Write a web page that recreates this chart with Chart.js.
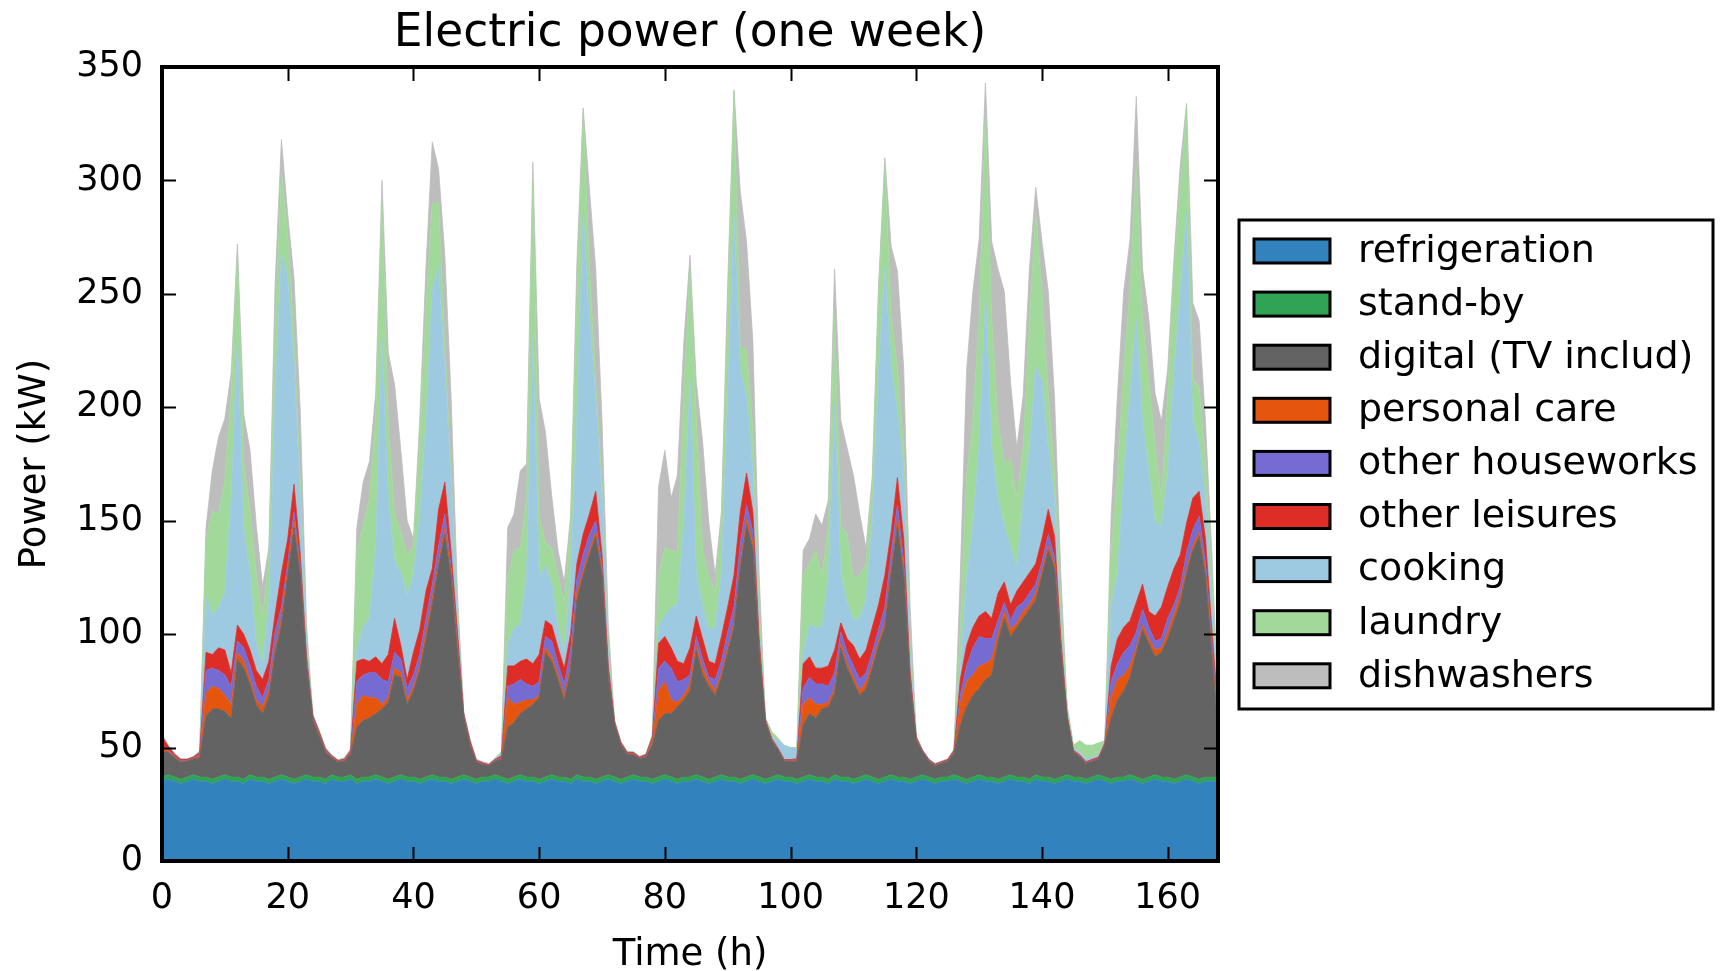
<!DOCTYPE html>
<html>
<head>
<meta charset="utf-8">
<title>Electric power (one week)</title>
<script src="https://cdn.jsdelivr.net/npm/chart.js@4.4.1/dist/chart.umd.min.js"></script>
<style>
  html, body { margin: 0; padding: 0; background: #ffffff; }
  #wrap { width: 1721px; height: 971px; }
</style>
</head>
<body>
<div id="wrap"><canvas id="chart" width="1721" height="971"></canvas></div>
<script>
// ===== DATA (kW, one value per hour, hour 0 .. 168) =====
const hours = Array.from({ length: 169 }, (_, i) => i);

const seriesNames = ["refrigeration", "stand-by", "digital (TV includ)", "personal care",
    "other houseworks", "other leisures", "cooking", "laundry", "dishwashers"];

const seriesColors = ["#3182bd", "#31a354", "#636363", "#e6550d",
    "#756bd1", "#de2d26", "#9ecae1", "#a1d99b", "#bdbdbd"];

const yTicks = [0, 50, 100, 150, 200, 250, 300, 350];
const xTicks = [0, 20, 40, 60, 80, 100, 120, 140, 160];

const refrigeration = [
    35,36,35,34,35,36,35,35,34,35,36,35,35,34,36,35,35,34,35,36,35,34,35,36,
    35,35,34,36,35,35,36,34,35,35,36,35,34,35,36,35,35,34,35,36,35,35,34,35,
    36,35,34,35,35,36,35,34,35,36,35,35,34,35,36,35,35,34,36,35,35,34,35,36,
    35,34,35,36,35,35,34,35,36,35,34,35,35,36,35,34,35,36,35,35,34,35,36,35,
    34,35,36,35,35,34,35,36,35,35,34,36,35,35,34,35,36,35,34,35,36,35,35,34,
    35,36,35,34,35,35,36,35,34,35,36,35,35,34,35,36,35,35,34,36,35,35,34,35,
    36,35,35,34,35,36,35,34,35,35,36,35,34,35,36,35,35,34,35,36,35,34,35,35,
    35
];

const standby = [
    2,2,2,2,2,2,2,2,2,2,2,2,2,2,2,2,2,2,2,2,2,2,2,2,
    2,2,2,2,2,2,2,2,2,2,2,2,2,2,2,2,2,2,2,2,2,2,2,2,
    2,2,2,2,2,2,2,2,2,2,2,2,2,2,2,2,2,2,2,2,2,2,2,2,
    2,2,2,2,2,2,2,2,2,2,2,2,2,2,2,2,2,2,2,2,2,2,2,2,
    2,2,2,2,2,2,2,2,2,2,2,2,2,2,2,2,2,2,2,2,2,2,2,2,
    2,2,2,2,2,2,2,2,2,2,2,2,2,2,2,2,2,2,2,2,2,2,2,2,
    2,2,2,2,2,2,2,2,2,2,2,2,2,2,2,2,2,2,2,2,2,2,2,2,
    2
];

const digital = [
    11,10,8.5,7.5,7,7,8.5,27,31,30,28,26,52,49,40,32,28,36,55,66,89,111,89,48,
    25,18,12,7.5,6.5,7,9,23,25,26,27,30,34,45,43,32,38,48,61,75,93,107,89,55,
    25,14,7.5,5.5,5,6,8,23,24,27,30,32,36,55,50,43,34,48,77,89,98,107,89,43,
    23,15,10,9,8,9,15,25,27,28,32,34,38,55,45,41,36,43,55,66,93,111,100,55,
    25,16,11,7,7,8,23,27,26,30,32,36,57,48,43,36,38,48,59,66,89,111,89,43,
    16,10,7,6,6,7,9.5,23,32,36,38,43,45,61,70,61,66,70,75,77,89,100,93,55,
    25,11,9,7,7,7,14,27,34,38,43,55,66,59,52,55,61,70,77,89,100,107,89,55,
    20
];

const personalCare = [
    2,0.5,0.3,0.3,0.2,0.2,1,10,10,9,7,6,3,3,2,2,3,3,2,3,2,3,2,1,
    0.5,0.5,0.3,0.2,0.2,0.2,0.5,10,11,9,7,2,2,3,2,2,2,2,3,3,2,3,2,2,
    0.5,0.5,0.2,0.2,0.1,0.2,0.3,13,8,5,4,2,1,2,2,2,2,2,3,2,2,2,2,1,
    0.3,0.3,0.2,0.2,0.2,0.2,1.5,13,14,6,2,2,3,2,3,2,2,2,2,2,2,3,2,1,
    0.3,0.3,0.2,0.2,0.2,0.3,9,7,6,2,2,2,2,2,2,2,3,2,2,2,2,3,2,1,
    0.3,0.2,0.2,0.2,0.2,0.2,0.5,9,11,9,10,7,7,3,3,3,2,3,2,3,2,2,2,1,
    0.3,0.2,0.2,0.2,0.2,0.2,0.3,9,9,7,5,2,2,2,3,2,3,3,3,2,2,2,2,2,
    3
];

const otherHouseworks = [
    1,0.5,0.3,0.3,0.2,0.2,0.5,10,8,8,9,8,5,6,6,6,4,5,7,5,3,4,2,1,
    0.5,0.5,0.3,0.2,0.2,0.2,0.3,10,9,11,11,11,7,7,6,5,5,5,6,6,7,6,2,2,
    0.5,0.5,0.2,0.2,0.1,0.2,0.3,5,9,10,7,6,6,5,7,5,5,7,6,7,7,5,2,1,
    0.3,0.3,0.2,0.2,0.2,0.2,1,10,9,14,9,7,4,4,4,2,5,5,7,7,9,6,5,1,
    0.3,0.3,0.2,0.2,0.2,0.3,7,9,9,9,7,7,5,5,5,5,4,5,5,7,7,6,4,1,
    0.3,0.2,0.2,0.2,0.2,0.2,0.3,4,7,12,13,11,9,6,4,4,7,4,5,4,4,5,3,1,
    0.3,0.2,0.2,0.2,0.2,0.2,0.3,7,7,10,9,7,7,5,4,4,6,4,4,7,7,7,4,4,
    2
];

const otherLeisures = [
    4,1.5,0.9,0.6,0.4,0.4,0.8,8,6,10,11,6,7,6,7,7,8,8,8,15,11,12,5,2,
    1,1,0.8,0.5,0.4,0.5,0.8,9,7,5,7,7,12,15,6,4,10,11,12,7,16,14,7,5,
    1,1,0.5,0.4,0.3,0.4,0.8,9,8,8,11,10,12,7,7,7,7,7,7,9,9,13,5,3,
    0.8,0.6,0.5,0.4,0.4,0.5,1,11,11,9,9,7,12,9,9,7,7,11,11,14,14,14,9,4,
    0.8,0.5,0.3,0.3,0.3,0.5,11,9,7,7,9,10,4,6,9,9,10,11,11,14,9,12,10,3,
    0.8,0.3,0.3,0.3,0.3,0.3,0.5,7,9,9,9,12,9,12,9,7,7,9,9,9,10,11,9,4,
    0.6,0.4,0.4,0.4,0.4,0.4,0.5,7,11,11,11,13,11,7,11,14,14,16,14,13,14,11,10,5,
    5
];

const cooking = [
    0.5,0.5,0.5,0.3,0.2,0.2,0.5,25,17,18,25,77,126,47,34,12,7,25,96,141,115,54,25,5,
    0.3,0.3,0.3,0.2,0.2,0.3,0.5,5,14,19,48,143,68,25,32,37,34,50,75,123,107,50,30,6,
    0.3,0.3,0.3,0.3,0.3,0.4,1.5,9,17,16,37,143,34,24,18,9,7,25,64,141,86,41,25,4,
    0.3,0.3,0.3,0.2,0.2,0.2,0.5,7,9,18,25,61,118,19,14,14,16,28,93,159,62,34,18,5,
    0.3,0.5,3.5,6,5,4.5,5,14,18,18,39,108,21,16,11,18,22,47,103,136,73,29,29,7,
    0.3,0.2,0.2,0.2,0.2,0.2,0.2,5,30,45,75,140,75,41,25,25,11,37,54,87,70,27,16,5,
    1.5,0.7,1.2,1.2,1,1,0.4,27,28,68,100,125,71,61,41,36,50,87,116,137,34,21,18,11,
    2
];

const laundry = [
    0.5,0,0,0,0,0,0.3,25,46,41,50,45,38,28,27,30,20,21,30,36,19,12,7,2,
    0.2,0.2,0.2,0.1,0.1,0.2,0.3,43,45,53,57,60,34,21,18,18,13,32,51,38,28,11,4,5,
    0.2,0.2,0.1,0.1,0.1,0.1,0.3,30,34,34,34,70,27,10,16,23,22,22,50,45,23,7,7,3,
    0.2,0.2,0.2,0.1,0.1,0.1,0.5,23,30,25,23,57,50,68,25,23,16,22,34,54,11,20,18,9,
    0.3,2.4,0.8,0.3,0.3,0.4,34,27,34,23,22,40,22,30,19,19,16,15,34,45,22,19,11,6,
    0.3,0.1,0.1,0.1,0.1,0.1,0.1,18,45,46,57,80,57,34,28,39,30,22,57,68,39,23,11,11,
    2.3,1.5,5,6,5.2,5.2,0.5,23,45,46,46,68,45,41,34,12,34,45,45,45,18,25,16,12,
    2
];

const dishwashers = [
    0,0,0,0,0,0,0,5,18,34,27,10,4,22,27,22,14,4,20,14,9,25,31,7,
    0,0,0,0,0,0,0,11,19,16,11,10,31,57,36,15,3,10,17,27,15,39,34,6,
    0,0,0,0,0,0,0,22,16,34,15,8,52,49,23,11,9,5,18,2,34,50,27,11,
    0,0,0,0,0,0,0,39,43,23,34,23,5,16,48,24,7,5,16,1,68,48,39,14,
    0,0,0,0,0,0,11,11,16,22,12,20,46,38,45,27,7,5,4,3,31,43,35,16,
    0,0,0,0,0,0,0,23,46,57,34,13,34,68,75,34,22,23,23,11,22,46,34,12,
    0,0,0,0,0,0,0,16,34,34,22,30,23,27,23,34,12,5,11,3,34,29,18,11,
    2
];

const seriesValues = [refrigeration, standby, digital, personalCare,
    otherHouseworks, otherLeisures, cooking, laundry, dishwashers];

// ===== LOOK =====
const FONT = "'DejaVu Sans', 'Liberation Sans', sans-serif";
const PLOT = { left: 162, top: 67, right: 1218, bottom: 861 };

// frame, inward ticks, titles and the boxed legend
const decorations = {
    id: "decorations",
    afterDraw(chart) {
        const ctx = chart.ctx;
        const a = chart.chartArea;
        const xs = chart.scales.x, ys = chart.scales.y;
        ctx.save();

        // ticks on all four sides, pointing in
        ctx.strokeStyle = "#000";
        ctx.lineWidth = 2;
        const tl = 14;
        ctx.beginPath();
        xTicks.forEach(v => {
            const px = Math.round(xs.getPixelForValue(v)) + 0.5;
            ctx.moveTo(px, a.bottom); ctx.lineTo(px, a.bottom - tl);
            ctx.moveTo(px, a.top); ctx.lineTo(px, a.top + tl);
        });
        yTicks.forEach(v => {
            const py = Math.round(ys.getPixelForValue(v)) + 0.5;
            ctx.moveTo(a.left, py); ctx.lineTo(a.left + tl, py);
            ctx.moveTo(a.right, py); ctx.lineTo(a.right - tl, py);
        });
        ctx.stroke();

        // plot frame
        ctx.lineWidth = 4;
        ctx.strokeRect(a.left, a.top, a.right - a.left, a.bottom - a.top);

        // titles
        ctx.fillStyle = "#000";
        ctx.textAlign = "center";
        ctx.textBaseline = "alphabetic";
        ctx.font = "45.5px " + FONT;
        ctx.fillText("Electric power (one week)", (a.left + a.right) / 2, 46);
        ctx.font = "37px " + FONT;
        ctx.fillText("Time (h)", (a.left + a.right) / 2, 965);
        ctx.save();
        ctx.translate(45, (a.top + a.bottom) / 2);
        ctx.rotate(-Math.PI / 2);
        ctx.fillText("Power (kW)", 0, 0);
        ctx.restore();

        // legend
        const box = { x: 1239, y: 220, w: 474, h: 489 };
        ctx.lineWidth = 3;
        ctx.strokeRect(box.x, box.y, box.w, box.h);
        ctx.font = "38px " + FONT;
        ctx.textAlign = "left";
        ctx.textBaseline = "middle";
        chart.data.datasets.forEach((ds, i) => {
            const cy = 251 + i * 53.1;
            ctx.fillStyle = ds.backgroundColor;
            ctx.fillRect(1254, cy - 12, 76, 24);
            ctx.lineWidth = 3;
            ctx.strokeStyle = "#000";
            ctx.strokeRect(1254, cy - 12, 76, 24);
            ctx.fillStyle = "#000";
            ctx.fillText(ds.label, 1358, cy + 1);
        });
        ctx.restore();
    }
};

const datasets = seriesNames.map((name, i) => ({
    label: name,
    data: seriesValues[i],
    backgroundColor: seriesColors[i],
    borderColor: seriesColors[i],
    borderWidth: 0.8,
    pointRadius: 0,
    tension: 0,
    fill: i === 0 ? "origin" : "-1"
}));

new Chart(document.getElementById("chart"), {
    type: "line",
    data: { labels: hours, datasets: datasets },
    options: {
        responsive: false,
        animation: false,
        devicePixelRatio: 1,
        layout: { padding: { left: 0, top: PLOT.top, right: 1721 - PLOT.right, bottom: 0 } },
        plugins: {
            legend: { display: false },
            title: { display: false },
            tooltip: { enabled: false }
        },
        scales: {
            x: {
                type: "linear",
                min: 0,
                max: 168,
                grid: { display: false, drawTicks: false },
                border: { display: false },
                ticks: {
                    stepSize: 20,
                    includeBounds: false,
                    padding: 17,
                    color: "#000",
                    font: { family: FONT, size: 35 },
                    maxRotation: 0
                },
                afterFit(scale) { scale.height = 971 - PLOT.bottom; }
            },
            y: {
                stacked: true,
                min: 0,
                max: 350,
                grid: { display: false, drawTicks: false },
                border: { display: false },
                ticks: {
                    stepSize: 50,
                    padding: 19,
                    color: "#000",
                    font: { family: FONT, size: 35 }
                },
                afterFit(scale) { scale.width = PLOT.left; }
            }
        }
    },
    plugins: [decorations]
});
</script>
</body>
</html>
